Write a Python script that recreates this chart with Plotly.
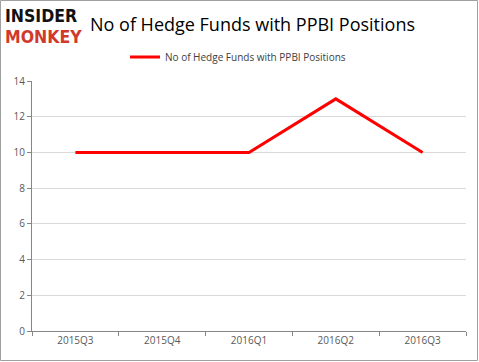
import plotly.graph_objects as go

quarters = ["2015Q3", "2015Q4", "2016Q1", "2016Q2", "2016Q3"]
funds = [10, 10, 10, 13, 10]
series_name = "No of Hedge Funds with PPBI Positions"
title_text = "No of Hedge Funds with PPBI Positions"

W, H = 479, 362
L, R, T, B = 32, 13, 81, 31
pw, ph = W - L - R, H - T - B

def px_x(x):
    return (x - L) / pw

def px_y(y):
    return (H - B - y) / ph

fig = go.Figure()
fig.add_trace(go.Scatter(
    x=quarters, y=funds, mode="lines", name=series_name,
    line=dict(color="#FF0000", width=3),
))

fig.update_layout(
    width=W, height=H,
    margin=dict(l=L, r=R, t=T, b=B, autoexpand=False),
    paper_bgcolor="white", plot_bgcolor="white",
    showlegend=True,
    legend=dict(orientation="h", x=px_x(238), xanchor="center",
                y=px_y(57), yanchor="middle",
                font=dict(family="Open Sans", size=10, color="#404040"),
                itemwidth=30, bgcolor="rgba(0,0,0,0)"),
    font=dict(family="Open Sans", size=10, color="#595959"),
)

fig.update_xaxes(
    type="category", range=[-0.5, 4.5], showline=True, linecolor="#868686", linewidth=1,
    ticks="outside", tickson="boundaries", ticklen=4, tickcolor="#868686",
    showgrid=False, tickfont=dict(size=10, color="#595959"), automargin=False,
)
fig.update_yaxes(
    range=[0, 14], dtick=2, showline=True, linecolor="#868686", linewidth=1,
    ticks="outside", ticklen=4, tickcolor="#868686",
    showgrid=True, gridcolor="#D9D9D9", gridwidth=1, zeroline=False,
    tickfont=dict(size=10, color="#595959"), automargin=False,
)

# outer border
fig.add_shape(type="rect", xref="paper", yref="paper",
              x0=px_x(0.5), x1=px_x(W - 1.5), y0=px_y(H - 1.5), y1=px_y(0.5),
              line=dict(color="#A0A0A0", width=1), layer="above")

# title (kept clear of the logo)
fig.add_annotation(xref="paper", yref="paper", x=px_x(88), y=px_y(24), xanchor="left", yanchor="middle",
                   text=title_text, showarrow=False,
                   font=dict(family="Open Sans", size=18, color="#000000"))

# logo
fig.add_annotation(xref="paper", yref="paper", x=px_x(4), y=px_y(16), xanchor="left", yanchor="middle",
                   text="<b>INSIDER</b>", showarrow=False, borderpad=0,
                   font=dict(family="DejaVu Sans Condensed", size=17.5, color="#111111"))
fig.add_annotation(xref="paper", yref="paper", x=px_x(4), y=px_y(37), xanchor="left", yanchor="middle",
                   text="<b>MONKEY</b>", showarrow=False, borderpad=0,
                   font=dict(family="DejaVu Sans Condensed", size=17.5, color="#D0392B"))

fig.write_html("out.html", config={"displayModeBar": False},
               post_script="document.body.style.margin='0';document.body.style.overflow='hidden';")
